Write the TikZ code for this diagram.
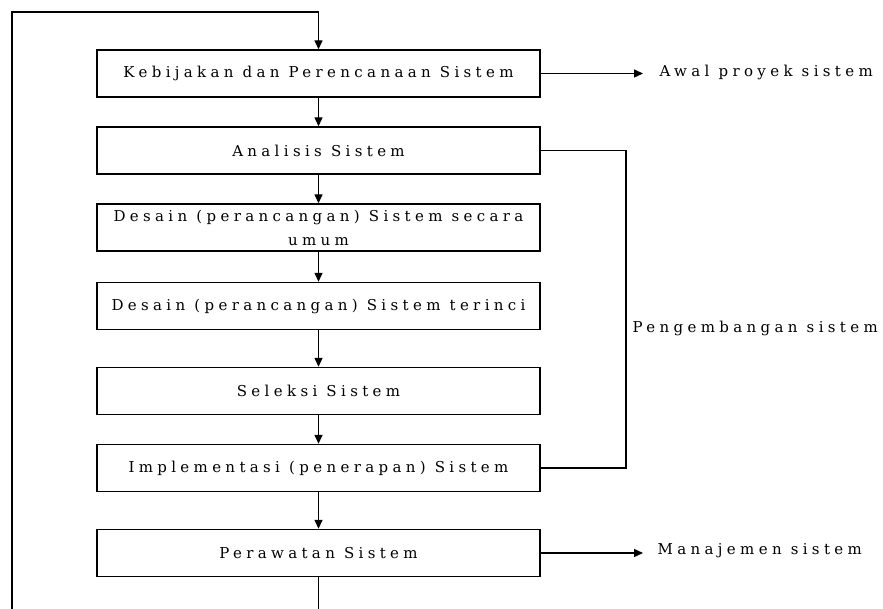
\documentclass[tikz,border=0pt]{standalone}
\usepackage{fontspec}
\setmainfont{DejaVu Serif}
\newfontfamily\spaced[LetterSpace=29]{DejaVu Serif}
\usetikzlibrary{arrows.meta}
\begin{document}
\begin{tikzpicture}[x=1pt, y=-1pt, >={Triangle[width=8pt,length=9pt]}, line width=1.4pt]
	\tikzstyle{stage} = [draw, minimum width=443pt, minimum height=47pt, inner sep=0pt, align=center, font=\spaced\fontsize{15}{24}\selectfont]
	\tikzstyle{note} = [anchor=west, inner sep=0pt, font=\spaced\fontsize{15}{17}\selectfont]
	\useasboundingbox (0,0) rectangle (883,609);
	
	% Define stage boxes
	\node[stage] (S1) at (318.5,73.5) {Kebijakan dan Perencanaan Sistem};
	\node[stage] (S2) at (318.5,150.5) {Analisis Sistem};
	\node[stage] (S3) at (318.5,227.5) {Desain (perancangan) Sistem secara\\umum};
	\node[stage] (S4) at (318.5,306) {Desain (perancangan) Sistem terinci};
	\node[stage] (S5) at (318.5,391) {Seleksi Sistem};
	\node[stage] (S6) at (318.5,468) {Implementasi (penerapan) Sistem};
	\node[stage] (S7) at (318.5,553) {Perawatan Sistem};
	
	% Side labels
	\node[note] (A1) at (659,72) {Awal proyek sistem};
	\node[note] (A2) at (632,328) {Pengembangan sistem};
	\node[note] (A3) at (657,551) {Manajemen sistem};
	
	% Helper points
	\coordinate (E1) at (643,73.5);
	\coordinate (E7) at (643,553);
	\coordinate (R) at (626,468);
	\coordinate (L0) at (12,609);
	\coordinate (T) at (318.5,12);
	\coordinate (B7) at (318.5,609);
	
	% Straight edges between stages
	\foreach \a/\b in {S1/S2, S2/S3, S3/S4, S4/S5, S5/S6, S6/S7}
		\draw[->] (\a) -- (\b);
	
	% Outgoing arrows and bracket
	\draw[->] (S1.east) -- (E1);
	\draw[->] (S7.east) -- (E7);
	\draw (S2.east) -| (R) -- (S6.east);
	
	% Feedback loop
	\draw (S7) -- (B7);
	\draw[->] (L0) |- (T) -- (S1);
	
\end{tikzpicture}
\end{document}
